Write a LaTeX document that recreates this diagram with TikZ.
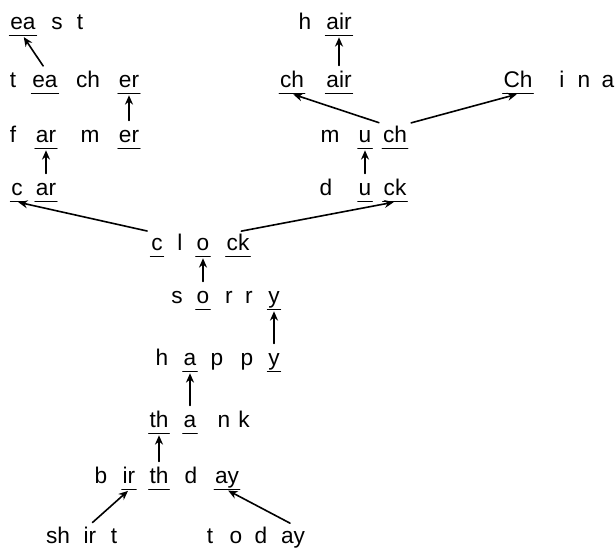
\documentclass[tikz,border=0pt]{standalone}
\usepackage{fontspec}
\setmainfont{Liberation Sans}
\usetikzlibrary{arrows.meta}
\begin{document}
\begin{tikzpicture}
[x=0.75pt, y=-0.75pt, font=\fontsize{17}{20}\selectfont, line cap=round,
 >={Stealth[length=7pt,width=6pt]},
 grp/.style={anchor=base, inner xsep=0.5pt, inner ysep=1pt, text height=12.5pt, text depth=4pt},
 link/.style={->, line width=1.2pt, shorten <=2.5pt, shorten >=1pt},
 ul/.style={line width=0.8pt}]
\useasboundingbox (0,0) rectangle (616,551);
% letter groups: name/text/x/baseline
\foreach \n/\w/\x/\y in {east-ea/ea/23/29, east-s/s/57/29, east-t/t/80/29,
  hair-h/h/305/29, hair-air/air/339/29,
  teacher-t/t/13/87, teacher-ea/ea/45/87, teacher-ch/ch/88/87, teacher-er/er/129/87,
  chair-ch/ch/292/87, chair-air/air/339/87,
  china-ch/Ch/518/87, china-i/i/562/87, china-n/n/584/87, china-a/a/608/87,
  farmer-f/f/13/142, farmer-ar/ar/46/142, farmer-m/m/90/142, farmer-er/er/129/142,
  much-m/m/330/142, much-u/u/365/142, much-ch/ch/395/142,
  car-c/c/17/195, car-ar/ar/46/195,
  duck-d/d/326/195, duck-u/u/365/195, duck-ck/ck/395/195,
  clock-c/c/157/250, clock-l/l/180/250, clock-o/o/203/250, clock-ck/ck/238/250,
  sorry-s/s/177/303, sorry-o/o/203/303, sorry-r1/r/229/303, sorry-r2/r/249/303, sorry-y/y/274/303,
  happy-h/h/162/365, happy-a/a/190/365, happy-p1/p/217/365, happy-p2/p/247/365, happy-y/y/274/365,
  thank-th/th/159/427, thank-a/a/190/427, thank-n/n/224/427, thank-k/k/244/427,
  birthday-b/b/101/483, birthday-ir/ir/129/483, birthday-th/th/159/483, birthday-d/d/191/483, birthday-ay/ay/227/483,
  shirt-sh/sh/58/543, shirt-ir/ir/90/543, shirt-t/t/114/543,
  today-t/t/210/543, today-o/o/236/543, today-d/d/261/543, today-ay/ay/293/543}
\node[grp] (\n) at (\x,\y) {\w};
% underlined groups
\foreach \n in {east-ea, hair-air, teacher-ea, teacher-er, chair-ch, chair-air, china-ch,
  farmer-ar, farmer-er, much-u, much-ch, car-c, car-ar, duck-u, duck-ck,
  clock-c, clock-o, clock-ck, sorry-o, sorry-y, happy-a, happy-y, thank-th, thank-a,
  birthday-ir, birthday-th, birthday-ay}
\draw[ul] (\n.south west) -- (\n.south east);
% arrows
\foreach \a/\b in {teacher-ea.north/east-ea.south, farmer-er.north/teacher-er.south,
  car-ar.north/farmer-ar.south, clock-c.north west/car-c.south, clock-ck.north/duck-ck.south,
  sorry-o.north/clock-o.south, happy-y.north/sorry-y.south, thank-a.north/happy-a.south,
  birthday-th.north/thank-th.south, shirt-ir.north/birthday-ir.south,
  today-ay.north/birthday-ay.south, duck-u.north/much-u.south,
  much-ch.north west/chair-ch.south, much-ch.north east/china-ch.south,
  chair-air.north/hair-air.south}
\draw[link] (\a) -- (\b);
\end{tikzpicture}
\end{document}
